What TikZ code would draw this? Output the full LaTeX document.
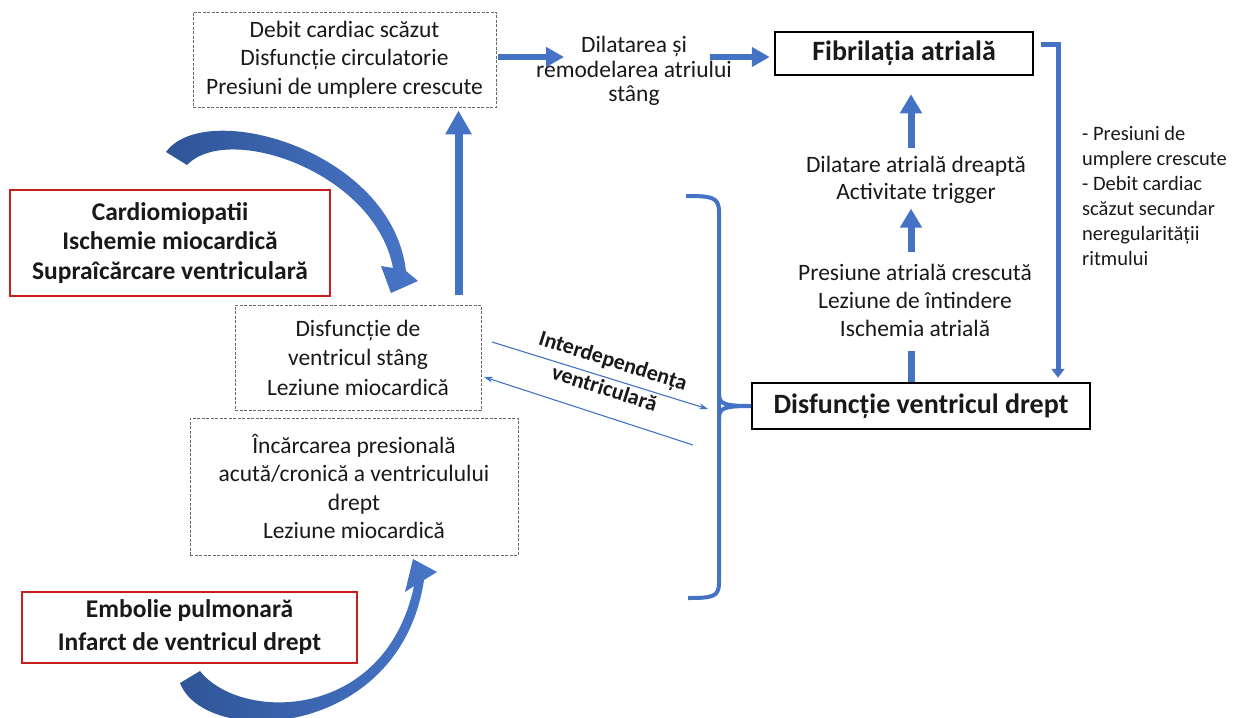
\documentclass[tikz,border=0pt]{standalone}
\usepackage{fontspec}
\setmainfont{Carlito}
\usetikzlibrary{arrows.meta,calc}
\definecolor{ablue}{RGB}{68,114,196}
\definecolor{cdark}{RGB}{47,85,151}
\definecolor{clight}{RGB}{72,118,200}
\definecolor{rboxc}{RGB}{200,30,30}
\definecolor{dgray}{RGB}{105,105,105}
\definecolor{tcol}{RGB}{25,25,25}
\begin{document}
\begin{tikzpicture}[x=1pt,y=-1pt,
  every node/.style={text=tcol},
  dbox/.style={draw=dgray, dash pattern=on 3pt off 1.5pt, line width=0.9pt, inner sep=0pt, align=center},
  rbox/.style={draw=rboxc, line width=1.2pt, inner sep=0pt, align=center},
  kbox/.style={draw=black, line width=2.5pt, inner sep=0pt, align=center, font=\bfseries\fontsize{28}{32}\selectfont},
  txt/.style={align=center, inner sep=2pt},
  bigA/.style={draw=ablue, line width=8pt, -{Triangle[length=24pt,width=25pt]}},
  midA/.style={draw=ablue, line width=7pt, -{Triangle[length=19pt,width=21pt]}},
  topA/.style={draw=ablue, line width=6pt, -{Triangle[length=18pt,width=19pt]}},
  seg/.style={draw=ablue, line width=7pt},
  thinA/.style={draw=ablue, line width=1.1pt, -{Stealth[length=9pt,width=6pt]}},
  brace/.style={draw=ablue, line width=4pt},
]
\useasboundingbox (0,0) rectangle (1238,717);

% boxes
\node[dbox, minimum width=303pt, minimum height=95pt, font=\fontsize{23.5}{28.3}\selectfont] (top) at (344.5,59.5)
  {Debit cardiac scăzut\\Disfuncție circulatorie\\Presiuni de umplere crescute};
\node[txt, font=\fontsize{23.5}{24.5}\selectfont] (dil) at (634,71)
  {Dilatarea și\\remodelarea atriului\\stâng};
\node[kbox, minimum width=258pt, minimum height=43pt] (fib) at (904,53.5) {Fibrilația atrială};
\node[kbox, minimum width=338pt, minimum height=46pt] (rv) at (921,406) {Disfuncție ventricul drept};
\node[txt, font=\fontsize{23.5}{26.5}\selectfont] (dad) at (916,180) {Dilatare atrială dreaptă\\Activitate trigger};
\node[txt, font=\fontsize{23.5}{28}\selectfont] (pac) at (915,300) {Presiune atrială crescută\\Leziune de întindere\\Ischemia atrială};
\node[anchor=north west, inner sep=0pt, align=left, font=\fontsize{20.5}{25}\selectfont] (side) at (1082,126)
  {- Presiuni de\\umplere crescute\\- Debit cardiac\\scăzut secundar\\neregularității\\ritmului};

\node[rbox, minimum width=320pt, minimum height=106pt, font=\bfseries\fontsize{25.5}{29.5}\selectfont] (red1) at (170,243)
  {Cardiomiopatii\\Ischemie miocardică\\Supraîcărcare ventriculară};
\node[dbox, minimum width=246pt, minimum height=105pt, font=\fontsize{23.5}{29.5}\selectfont] (lv) at (358,357.5)
  {Disfuncție de\\ventricul stâng\\Leziune miocardică};
\node[dbox, minimum width=328pt, minimum height=137pt, font=\fontsize{23.5}{28.3}\selectfont] (rvl) at (354,486.5)
  {Încărcarea presională\\acută/cronică a ventriculului\\drept\\Leziune miocardică};
\node[rbox, minimum width=335pt, minimum height=71pt, font=\bfseries\fontsize{25.5}{33}\selectfont] (red2) at (189.5,627.5)
  {Embolie pulmonară\\Infarct de ventricul drept};

\node[rotate=-17.5, align=center, inner sep=0pt, font=\bfseries\fontsize{22}{29}\selectfont] (lab) at (609,374)
  {Interdependența\\ventriculară};

% coordinates
\coordinate (vx) at (911,0);
\coordinate (lx) at (458.5,0);
\coordinate (rb) at (1058,0);
\coordinate (t1s) at (492,342);
\coordinate (t1e) at (708,409);
\coordinate (t2s) at (693,445);
\coordinate (t2e) at (484,377);

% top horizontal arrows
\draw[topA] ($(top.east)+(2,-2.5)$) -- ($(top.east -| dil.west)+(30,-2.5)$);
\draw[topA] ($(dil.east |- fib.west)+(-24,3.5)$) -- ($(fib.west)+(-4,3.5)$);

% left vertical arrow
\draw[bigA, shorten <=10pt, shorten >=3pt] (lv.north -| lx) -- (top.south -| lx);

% middle column arrows
\draw[seg] (rv.north -| vx) -- ++(0,-31);
\draw[midA, shorten <=10pt, shorten >=3pt] (pac.north -| vx) -- (dad.south -| vx);
\draw[midA, shorten <=6pt, shorten >=18pt] (dad.north -| vx) -- (fib.south -| vx);

% right bracket arrow
\draw[draw=ablue, line width=5pt, -{Triangle[length=9pt,width=13pt]}]
  ($(fib.east)+(7,-8.5)$) -| ($(rv.north -| rb)+(0,-4)$);

% big brace
\draw[brace] (686,196) .. controls (712,196) and (719,197) .. (719,212) -- (719,583)
  .. controls (719,597) and (712,598) .. (688,598);
\draw[brace] (719,394) .. controls (719,404) and (724,406) .. (rv.west);
\draw[brace] (719,418) .. controls (719,408) and (724,406) .. (rv.west);

% thin arrows
\draw[thinA] (t1s) -- (t1e);
\draw[thinA] (t2s) -- (t2e);

% curved arrows
\shade[left color=cdark, right color=clight]
  (166,152) .. controls (205,98) and (392,150) .. (406,271) -- (418,281) -- (391,293) -- (381,266) -- (393,268)
  .. controls (375,172) and (228,122) .. (187,165) -- cycle;
\shade[left color=cdark, right color=clight]
  (180,683) .. controls (205,748) and (400,740) .. (424,580) -- (437,572) -- (413,559) -- (405,592) -- (414,586)
  .. controls (385,722) and (240,722) .. (200,671) -- cycle;
\end{tikzpicture}
\end{document}
